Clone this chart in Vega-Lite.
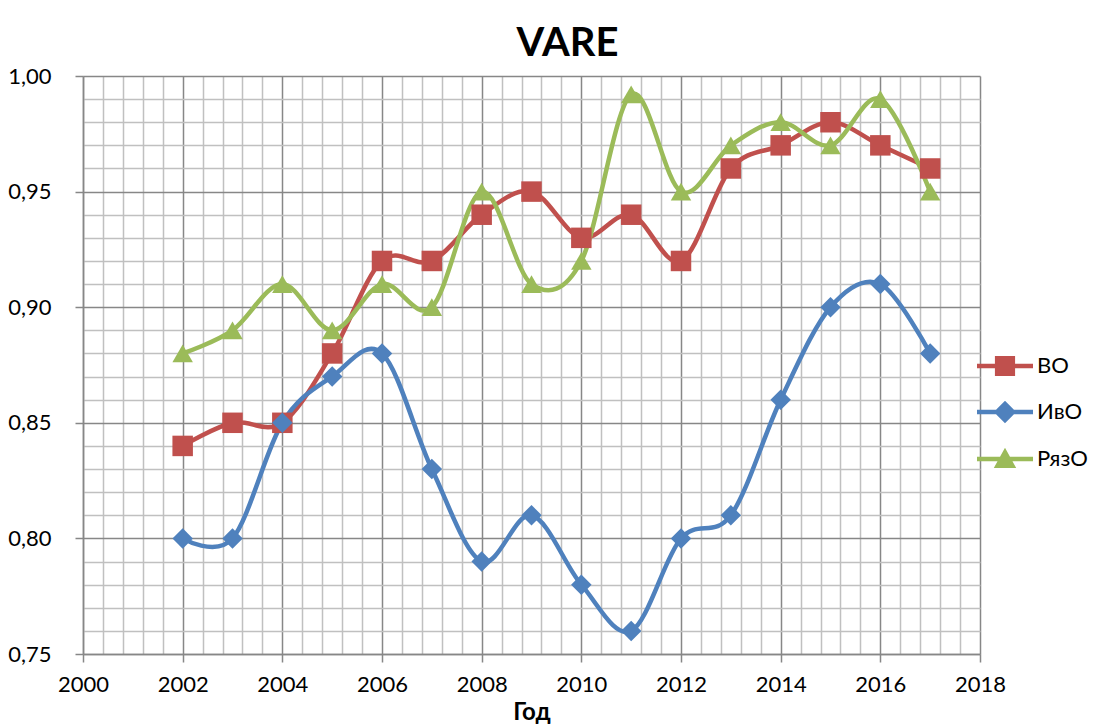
{
  "$schema": "https://vega.github.io/schema/vega-lite/v6.json",
  "autosize": {"type": "none"},
  "width": 897,
  "height": 578,
  "padding": {"left": 83, "top": 76, "right": 128, "bottom": 71},
  "background": "white",
  "title": {
    "text": "VARE",
    "font": "Lato",
    "fontSize": 40,
    "fontWeight": "bold",
    "color": "#000000",
    "anchor": "middle",
    "dx": 36,
    "offset": 1
  },
  "config": {
    "view": {"stroke": null},
    "font": "Lato"
  },
  "data": {
    "values": [
      {"year": 2002, "series": "ВО", "value": 0.84},
      {"year": 2003, "series": "ВО", "value": 0.85},
      {"year": 2004, "series": "ВО", "value": 0.85},
      {"year": 2005, "series": "ВО", "value": 0.88},
      {"year": 2006, "series": "ВО", "value": 0.92},
      {"year": 2007, "series": "ВО", "value": 0.92},
      {"year": 2008, "series": "ВО", "value": 0.94},
      {"year": 2009, "series": "ВО", "value": 0.95},
      {"year": 2010, "series": "ВО", "value": 0.93},
      {"year": 2011, "series": "ВО", "value": 0.94},
      {"year": 2012, "series": "ВО", "value": 0.92},
      {"year": 2013, "series": "ВО", "value": 0.96},
      {"year": 2014, "series": "ВО", "value": 0.97},
      {"year": 2015, "series": "ВО", "value": 0.98},
      {"year": 2016, "series": "ВО", "value": 0.97},
      {"year": 2017, "series": "ВО", "value": 0.96},
      {"year": 2002, "series": "ИвО", "value": 0.80},
      {"year": 2003, "series": "ИвО", "value": 0.80},
      {"year": 2004, "series": "ИвО", "value": 0.85},
      {"year": 2005, "series": "ИвО", "value": 0.87},
      {"year": 2006, "series": "ИвО", "value": 0.88},
      {"year": 2007, "series": "ИвО", "value": 0.83},
      {"year": 2008, "series": "ИвО", "value": 0.79},
      {"year": 2009, "series": "ИвО", "value": 0.81},
      {"year": 2010, "series": "ИвО", "value": 0.78},
      {"year": 2011, "series": "ИвО", "value": 0.76},
      {"year": 2012, "series": "ИвО", "value": 0.80},
      {"year": 2013, "series": "ИвО", "value": 0.81},
      {"year": 2014, "series": "ИвО", "value": 0.86},
      {"year": 2015, "series": "ИвО", "value": 0.90},
      {"year": 2016, "series": "ИвО", "value": 0.91},
      {"year": 2017, "series": "ИвО", "value": 0.88},
      {"year": 2002, "series": "РязО", "value": 0.88},
      {"year": 2003, "series": "РязО", "value": 0.89},
      {"year": 2004, "series": "РязО", "value": 0.91},
      {"year": 2005, "series": "РязО", "value": 0.89},
      {"year": 2006, "series": "РязО", "value": 0.91},
      {"year": 2007, "series": "РязО", "value": 0.90},
      {"year": 2008, "series": "РязО", "value": 0.95},
      {"year": 2009, "series": "РязО", "value": 0.91},
      {"year": 2010, "series": "РязО", "value": 0.92},
      {"year": 2011, "series": "РязО", "value": 0.992},
      {"year": 2012, "series": "РязО", "value": 0.95},
      {"year": 2013, "series": "РязО", "value": 0.97},
      {"year": 2014, "series": "РязО", "value": 0.98},
      {"year": 2015, "series": "РязО", "value": 0.97},
      {"year": 2016, "series": "РязО", "value": 0.99},
      {"year": 2017, "series": "РязО", "value": 0.95}
    ]
  },
  "encoding": {
    "x": {
      "field": "year",
      "type": "quantitative",
      "scale": {"domain": [2000, 2018], "nice": false, "zero": false},
      "axis": {
        "values": [2000, 2000.4, 2000.8, 2001.2, 2001.6, 2002, 2002.4, 2002.8, 2003.2, 2003.6, 2004, 2004.4, 2004.8, 2005.2, 2005.6, 2006, 2006.4, 2006.8, 2007.2, 2007.6, 2008, 2008.4, 2008.8, 2009.2, 2009.6, 2010, 2010.4, 2010.8, 2011.2, 2011.6, 2012, 2012.4, 2012.8, 2013.2, 2013.6, 2014, 2014.4, 2014.8, 2015.2, 2015.6, 2016, 2016.4, 2016.8, 2017.2, 2017.6, 2018],
        "labelExpr": "abs(datum.value/2 - round(datum.value/2)) < 0.01 ? format(datum.value, 'd') : ''",
        "labelOverlap": false,
        "labelBound": false,
        "labelFlush": false,
        "labelFont": "Lato",
        "labelFontSize": 22,
        "labelColor": "#000000",
        "labelPadding": 12,
        "grid": true,
        "gridColor": {"condition": {"test": "abs(datum.value/2 - round(datum.value/2)) < 0.01", "value": "#878787"}, "value": "#C0C0C0"},
        "gridWidth": 1.5,
        "tickColor": "#878787",
        "tickWidth": 1.5,
        "tickSize": 8,
        "tickOpacity": {"condition": {"test": "abs(datum.value/2 - round(datum.value/2)) < 0.01", "value": 1}, "value": 0},
        "domainColor": "#878787",
        "domainWidth": 1.5,
        "title": "Год",
        "titleFont": "Lato",
        "titleFontSize": 24,
        "titleFontWeight": "bold",
        "titleColor": "#000000",
        "titlePadding": 5
      }
    },
    "y": {
      "field": "value",
      "type": "quantitative",
      "scale": {"domain": [0.75, 1.0], "nice": false, "zero": false},
      "axis": {
        "values": [0.75, 0.76, 0.77, 0.78, 0.79, 0.8, 0.81, 0.82, 0.83, 0.84, 0.85, 0.86, 0.87, 0.88, 0.89, 0.9, 0.91, 0.92, 0.93, 0.94, 0.95, 0.96, 0.97, 0.98, 0.99, 1.0],
        "labelExpr": "abs(datum.value*20 - round(datum.value*20)) < 0.01 ? replace(format(datum.value, '.2f'), '.', ',') : ''",
        "labelOverlap": false,
        "labelBound": false,
        "labelFlush": false,
        "labelFont": "Lato",
        "labelFontSize": 22,
        "labelColor": "#000000",
        "labelPadding": 24,
        "grid": true,
        "gridColor": {"condition": {"test": "abs(datum.value*20 - round(datum.value*20)) < 0.01", "value": "#878787"}, "value": "#C0C0C0"},
        "gridWidth": 1.5,
        "tickColor": "#878787",
        "tickWidth": 1.5,
        "tickSize": 8,
        "tickOpacity": {"condition": {"test": "abs(datum.value*20 - round(datum.value*20)) < 0.01", "value": 1}, "value": 0},
        "domainColor": "#878787",
        "domainWidth": 1.5,
        "title": null
      }
    },
    "color": {
      "field": "series",
      "type": "nominal",
      "scale": {"domain": ["ВО", "ИвО", "РязО"], "range": ["#C0504D", "#4F81BD", "#9BBB59"]},
      "legend": null
    }
  },
  "layer": [
    {
      "mark": {"type": "line", "interpolate": "cardinal", "strokeWidth": 4.5, "strokeCap": "round"}
    },
    {
      "transform": [{"filter": "datum.series === 'ВО'"}],
      "mark": {"type": "point", "filled": true, "opacity": 1, "size": 420, "shape": "square"}
    },
    {
      "transform": [{"filter": "datum.series === 'ИвО'"}],
      "mark": {"type": "point", "filled": true, "opacity": 1, "size": 420, "shape": "diamond"}
    },
    {
      "transform": [{"filter": "datum.series === 'РязО'"}],
      "mark": {"type": "point", "filled": true, "opacity": 1, "size": 420, "shape": "triangle-up"}
    },
    {
      "mark": {"type": "point", "filled": true, "opacity": 0, "size": 10},
      "encoding": {
        "color": {
          "field": "series",
          "type": "nominal",
          "legend": {
            "title": null,
            "orient": "none",
            "legendX": 894,
            "legendY": 262,
            "padding": 0,
            "symbolSize": 3136,
            "symbolOpacity": 1,
            "symbolStrokeWidth": 0,
            "labelFont": "Lato",
            "labelFontSize": 22,
            "labelColor": "#000000",
            "labelOffset": 4,
            "rowPadding": 7
          }
        },
        "shape": {
          "field": "series",
          "type": "nominal",
          "scale": {"domain": ["ВО", "ИвО", "РязО"], "range": [
            "M-1,-0.08L1,-0.08L1,0.08L-1,0.08Z M-0.36,-0.36L0.36,-0.36L0.36,0.36L-0.36,0.36Z",
            "M-1,-0.08L1,-0.08L1,0.08L-1,0.08Z M0,-0.4L0.4,0L0,0.4L-0.4,0Z",
            "M-1,-0.08L1,-0.08L1,0.08L-1,0.08Z M0,-0.4L0.4,0.32L-0.4,0.32Z"
          ]},
          "legend": {
            "title": null,
            "orient": "none",
            "legendX": 894,
            "legendY": 262,
            "padding": 0,
            "symbolSize": 3136,
            "symbolOpacity": 1,
            "symbolStrokeWidth": 0,
            "labelFont": "Lato",
            "labelFontSize": 22,
            "labelColor": "#000000",
            "labelOffset": 4,
            "rowPadding": 7
          }
        }
      }
    }
  ],
  "resolve": {"legend": {"color": "independent", "shape": "independent"}}
}
